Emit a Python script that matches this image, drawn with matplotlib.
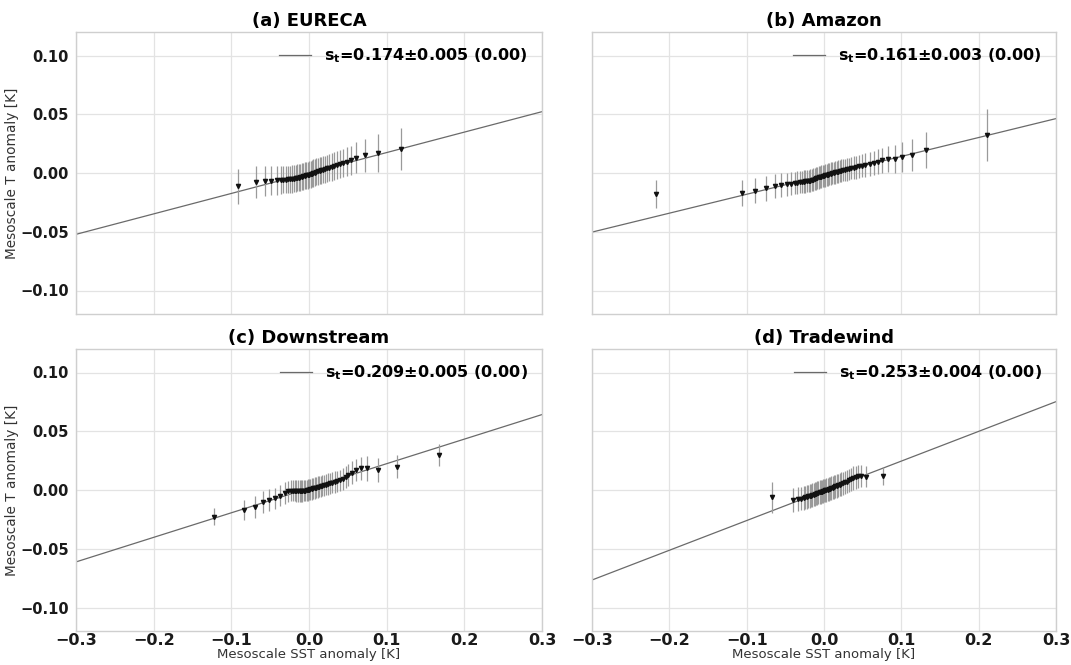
import matplotlib
matplotlib.use("Agg")
import matplotlib.pyplot as plt
import numpy as np

# ---------------- data ----------------
titles = ["(a) EURECA", "(b) Amazon", "(c) Downstream", "(d) Tradewind"]
slopes = [0.174, 0.161, 0.209, 0.253]
slope_err = [0.005, 0.003, 0.005, 0.004]
pvals = [0.00, 0.00, 0.00, 0.00]
intercepts = [0.0, -0.002, 0.0015, -0.0007]

x_a = [-0.0912, -0.0688, -0.0572, -0.0483, -0.0418, -0.0366, -0.0330, -0.0300, -0.0272, -0.0245,
       -0.0220, -0.0196, -0.0173, -0.0151, -0.0130, -0.0110, -0.0090, -0.0071, -0.0052, -0.0034,
       -0.0016, 0.0002, 0.0020, 0.0038, 0.0057, 0.0076, 0.0096, 0.0116, 0.0137, 0.0159,
       0.0182, 0.0206, 0.0232, 0.0260, 0.0290, 0.0322, 0.0357, 0.0397, 0.0442, 0.0485,
       0.0537, 0.0610, 0.0720, 0.0890, 0.1190]
y_a = [-0.0114, -0.0077, -0.0068, -0.0065, -0.0063, -0.0060, -0.0058, -0.0057, -0.0055, -0.0054,
       -0.0051, -0.0048, -0.0045, -0.0042, -0.0039, -0.0036, -0.0033, -0.0029, -0.0025, -0.0021,
       -0.0018, -0.0014, -0.0010, -0.0005, 0.0000, 0.0004, 0.0009, 0.0013, 0.0018, 0.0023,
       0.0028, 0.0033, 0.0039, 0.0045, 0.0052, 0.0059, 0.0067, 0.0076, 0.0087, 0.0097,
       0.0107, 0.0130, 0.0150, 0.0168, 0.0204]
e_a = [0.0150, 0.0136, 0.0125, 0.0122, 0.0120, 0.0118, 0.0116, 0.0115, 0.0115, 0.0115,
       0.0115, 0.0115, 0.0115, 0.0115, 0.0115, 0.0115, 0.0115, 0.0115, 0.0115, 0.0115,
       0.0115, 0.0115, 0.0115, 0.0115, 0.0115, 0.0115, 0.0115, 0.0115, 0.0115, 0.0115,
       0.0115, 0.0115, 0.0115, 0.0115, 0.0116, 0.0117, 0.0118, 0.0119, 0.0120, 0.0121,
       0.0123, 0.0130, 0.0142, 0.0163, 0.0182]

x_b = [-0.2167, -0.1058, -0.0886, -0.0744, -0.0637, -0.0551, -0.0477, -0.0422, -0.0380, -0.0345,
       -0.0315, -0.0288, -0.0263, -0.0240, -0.0218, -0.0197, -0.0177, -0.0158, -0.0139, -0.0121,
       -0.0103, -0.0086, -0.0069, -0.0052, -0.0035, -0.0018, -0.0001, 0.0016, 0.0033, 0.0050,
       0.0068, 0.0086, 0.0104, 0.0123, 0.0142, 0.0162, 0.0183, 0.0204, 0.0226, 0.0249,
       0.0273, 0.0298, 0.0325, 0.0353, 0.0383, 0.0415, 0.0450, 0.0488, 0.0530, 0.0589,
       0.0641, 0.0692, 0.0753, 0.0826, 0.0912, 0.1010, 0.1135, 0.1320, 0.2114]
y_b = [-0.0178, -0.0167, -0.0149, -0.0131, -0.0113, -0.0103, -0.0097, -0.0092, -0.0086, -0.0081,
       -0.0078, -0.0076, -0.0073, -0.0071, -0.0069, -0.0067, -0.0064, -0.0060, -0.0056, -0.0051,
       -0.0046, -0.0042, -0.0038, -0.0034, -0.0030, -0.0027, -0.0023, -0.0020, -0.0016, -0.0013,
       -0.0009, -0.0005, -0.0002, 0.0001, 0.0005, 0.0009, 0.0012, 0.0016, 0.0020, 0.0024,
       0.0027, 0.0031, 0.0035, 0.0040, 0.0045, 0.0050, 0.0056, 0.0063, 0.0070, 0.0077,
       0.0087, 0.0097, 0.0108, 0.0119, 0.0122, 0.0136, 0.0153, 0.0199, 0.0325]
e_b = [0.0120, 0.0110, 0.0110, 0.0107, 0.0103, 0.0100, 0.0098, 0.0097, 0.0095, 0.0095,
       0.0095, 0.0095, 0.0095, 0.0095, 0.0095, 0.0095, 0.0095, 0.0095, 0.0095, 0.0095,
       0.0095, 0.0095, 0.0095, 0.0095, 0.0095, 0.0095, 0.0095, 0.0095, 0.0095, 0.0095,
       0.0095, 0.0095, 0.0095, 0.0095, 0.0095, 0.0095, 0.0095, 0.0095, 0.0095, 0.0095,
       0.0095, 0.0095, 0.0095, 0.0095, 0.0096, 0.0097, 0.0098, 0.0099, 0.0100, 0.0100,
       0.0103, 0.0105, 0.0108, 0.0112, 0.0118, 0.0125, 0.0140, 0.0153, 0.0219]

x_c = [-0.1217, -0.0840, -0.0700, -0.0598, -0.0515, -0.0440, -0.0370, -0.0313, -0.0267, -0.0235,
       -0.0208, -0.0184, -0.0162, -0.0141, -0.0121, -0.0102, -0.0084, -0.0066, -0.0049, -0.0032,
       -0.0015, 0.0002, 0.0019, 0.0036, 0.0054, 0.0072, 0.0091, 0.0110, 0.0130, 0.0151,
       0.0173, 0.0196, 0.0220, 0.0246, 0.0273, 0.0302, 0.0333, 0.0366, 0.0401, 0.0440,
       0.0470, 0.0500, 0.0550, 0.0605, 0.0667, 0.0753, 0.0893, 0.1138, 0.1670]
y_c = [-0.0227, -0.0173, -0.0144, -0.0102, -0.0085, -0.0070, -0.0048, -0.0023, -0.0010, -0.0007,
       -0.0006, -0.0007, -0.0008, -0.0009, -0.0009, -0.0009, -0.0008, -0.0007, -0.0005, -0.0003,
       0.0000, 0.0002, 0.0005, 0.0009, 0.0013, 0.0017, 0.0021, 0.0025, 0.0029, 0.0033,
       0.0037, 0.0041, 0.0046, 0.0051, 0.0056, 0.0062, 0.0068, 0.0075, 0.0082, 0.0092,
       0.0110, 0.0130, 0.0148, 0.0168, 0.0183, 0.0183, 0.0170, 0.0200, 0.0300]
e_c = [0.0072, 0.0085, 0.0096, 0.0092, 0.0093, 0.0090, 0.0092, 0.0092, 0.0090, 0.0090,
       0.0090, 0.0090, 0.0090, 0.0090, 0.0090, 0.0090, 0.0090, 0.0090, 0.0090, 0.0090,
       0.0090, 0.0090, 0.0090, 0.0090, 0.0090, 0.0090, 0.0090, 0.0090, 0.0090, 0.0090,
       0.0090, 0.0090, 0.0090, 0.0090, 0.0090, 0.0090, 0.0090, 0.0090, 0.0090, 0.0091,
       0.0092, 0.0092, 0.0095, 0.0095, 0.0099, 0.0109, 0.0106, 0.0099, 0.0092]

x_d = [-0.0670, -0.0405, -0.0330, -0.0293, -0.0265, -0.0242, -0.0222, -0.0203, -0.0185, -0.0168,
       -0.0151, -0.0135, -0.0119, -0.0103, -0.0088, -0.0073, -0.0058, -0.0043, -0.0028, -0.0013,
       0.0002, 0.0017, 0.0032, 0.0047, 0.0063, 0.0079, 0.0095, 0.0112, 0.0129, 0.0147,
       0.0165, 0.0184, 0.0204, 0.0225, 0.0247, 0.0270, 0.0294, 0.0320, 0.0348, 0.0378,
       0.0410, 0.0445, 0.0480, 0.0537, 0.0763]
y_d = [-0.0062, -0.0088, -0.0077, -0.0074, -0.0068, -0.0063, -0.0059, -0.0055, -0.0051, -0.0047,
       -0.0043, -0.0039, -0.0035, -0.0031, -0.0027, -0.0023, -0.0019, -0.0016, -0.0013, -0.0010,
       -0.0006, -0.0003, 0.0001, 0.0004, 0.0008, 0.0012, 0.0016, 0.0020, 0.0025, 0.0030,
       0.0035, 0.0040, 0.0045, 0.0051, 0.0057, 0.0064, 0.0072, 0.0081, 0.0091, 0.0101,
       0.0110, 0.0116, 0.0118, 0.0113, 0.0118]
e_d = [0.0132, 0.0102, 0.0100, 0.0100, 0.0100, 0.0100, 0.0100, 0.0100, 0.0100, 0.0100,
       0.0100, 0.0100, 0.0100, 0.0100, 0.0100, 0.0100, 0.0100, 0.0100, 0.0100, 0.0100,
       0.0100, 0.0100, 0.0100, 0.0100, 0.0100, 0.0100, 0.0100, 0.0100, 0.0100, 0.0100,
       0.0100, 0.0100, 0.0100, 0.0100, 0.0100, 0.0100, 0.0100, 0.0100, 0.0100, 0.0100,
       0.0098, 0.0096, 0.0094, 0.0089, 0.0078]

xs = [x_a, x_b, x_c, x_d]
ys = [y_a, y_b, y_c, y_d]
es = [e_a, e_b, e_c, e_d]

xticks = [-0.3, -0.2, -0.1, 0.0, 0.1, 0.2, 0.3]
yticks = [-0.10, -0.05, 0.00, 0.05, 0.10]

# ---------------- figure ----------------
W, H = 1071, 665
fig = plt.figure(figsize=(W / 100, H / 100), dpi=100)

def box(l, r, t, b):
    return [l / W, (H - b) / H, (r - l) / W, (b - t) / H]

positions = [box(76, 542, 32, 314), box(592, 1056, 32, 314),
             box(76, 542, 349, 631), box(592, 1056, 349, 631)]

def fmt(v, nd):
    return ("%.*f" % (nd, v)).replace("-", "\u2212")

xline = np.array([-0.3, 0.3])
for i in range(4):
    ax = fig.add_axes(positions[i])
    ax.set_facecolor("white")
    ax.grid(True, color="#e3e3e3", linewidth=0.9)
    ax.set_axisbelow(True)
    for s in ax.spines.values():
        s.set_color("#cfcfcf")
        s.set_linewidth(1.0)
    ax.tick_params(axis="y", length=0, pad=5, labelsize=10.5, labelcolor="#1a1a1a")
    ax.tick_params(axis="x", length=0, pad=1.5, labelsize=11.5, labelcolor="#1a1a1a")

    ax.plot(xline, slopes[i] * xline + intercepts[i], color="#6a6a6a", linewidth=0.9,
            label=r"$\mathbf{s_t}$=%.3f±%.3f (%.2f)" % (slopes[i], slope_err[i], pvals[i]),
            zorder=2)
    ax.errorbar(xs[i], ys[i], yerr=es[i], fmt="none", ecolor="#9a9a9a", elinewidth=0.9,
                zorder=3)
    ax.plot(xs[i], ys[i], linestyle="none", marker="v", markersize=3.0,
            color="#111111", zorder=4)

    ax.set_xlim(-0.3, 0.3)
    ax.set_ylim(-0.12, 0.12)
    ax.set_xticks(xticks)
    ax.set_yticks(yticks)
    ax.set_xticklabels([fmt(v, 1) for v in xticks], fontweight="bold")
    ax.set_yticklabels([fmt(v, 2) for v in yticks], fontweight="bold")
    if i < 2:
        ax.tick_params(labelbottom=False)
    else:
        ax.set_xlabel("Mesoscale SST anomaly [K]", fontsize=9.5, color="#333333", labelpad=0)
    if i % 2 == 1:
        ax.tick_params(labelleft=False)
    else:
        ax.set_ylabel("Mesoscale T anomaly [K]", fontsize=9.8, color="#333333", labelpad=1)
    ax.set_title(titles[i], fontsize=13, fontweight="bold", pad=4)
    ax.legend(loc="upper right", frameon=False, prop={"weight": "bold", "size": 11.5},
              handlelength=2.0)

fig.savefig("out.png", dpi=100)
